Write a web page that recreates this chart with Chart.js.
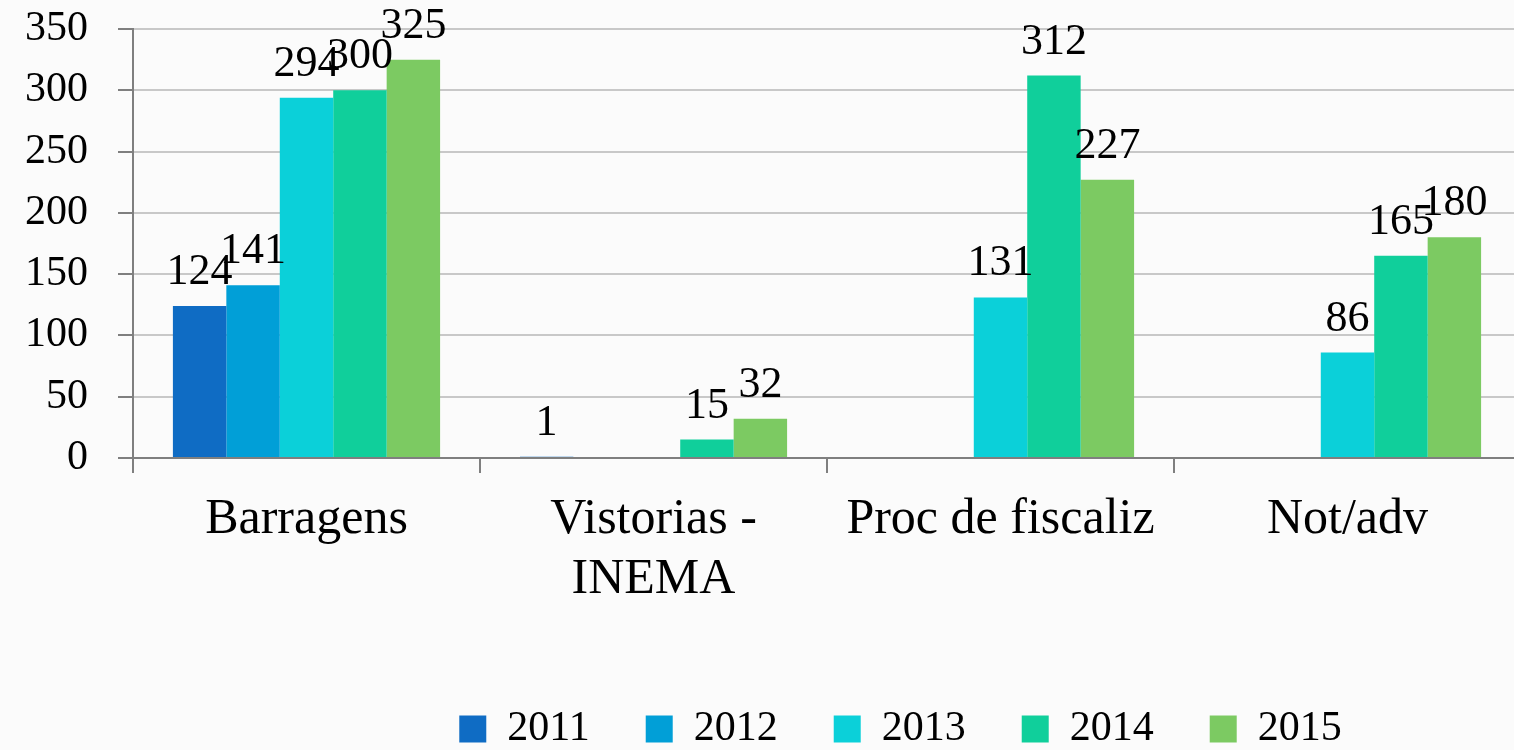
<!DOCTYPE html>
<html>
<head>
<meta charset="utf-8">
<script src="https://cdn.jsdelivr.net/npm/chart.js@4.4.1/dist/chart.umd.min.js"></script>
<style>
  html, body { margin: 0; padding: 0; overflow: hidden; background: #fbfbfb; }
  #wrap { width: 1521px; height: 750px; }
</style>
</head>
<body>
<div id="wrap"><canvas id="chart"></canvas></div>
<script>
/* ── data ── */
const CATEGORIES = ['Barragens', ['Vistorias -', 'INEMA'], 'Proc de fiscaliz', 'Not/adv'];
const YEARS = ['2011', '2012', '2013', '2014', '2015'];
const V2011 = [124, 1, null, null];
const V2012 = [141, null, null, null];
const V2013 = [294, null, 131, 86];
const V2014 = [300, 15, 312, 165];
const V2015 = [325, 32, 227, 180];
const Y_TICKS = [0, 50, 100, 150, 200, 250, 300, 350];

const COLORS = ['#0f6cc4', '#019fd7', '#0bd0d9', '#10cf9b', '#7cca62'];
const SERIES = [V2011, V2012, V2013, V2014, V2015];
const FONT = '"Liberation Serif", "DejaVu Serif", serif';

// value labels above each bar
const valueLabels = {
  id: 'valueLabels',
  afterDatasetsDraw(chart) {
    const { ctx } = chart;
    ctx.save();
    ctx.font = `44px ${FONT}`;
    ctx.fillStyle = '#000';
    ctx.textAlign = 'center';
    ctx.textBaseline = 'alphabetic';
    chart.data.datasets.forEach((ds, i) => {
      chart.getDatasetMeta(i).data.forEach((bar, j) => {
        const v = ds.data[j];
        if (v == null) return;
        ctx.fillText(String(v), bar.x, bar.y - 22);
      });
    });
    ctx.restore();
  }
};

// legend sits right of the canvas centre (and a bit lower) in the original
const legendShift = {
  id: 'legendShift',
  afterLayout(chart) {
    const lg = chart.legend;
    if (!lg) return;
    lg.left += 140; lg.right += 140;
    lg.top += 10; lg.bottom += 10;
  }
};

new Chart(document.getElementById('chart'), {
  type: 'bar',
  data: {
    labels: CATEGORIES,
    datasets: YEARS.map((y, i) => ({
      label: y,
      data: SERIES[i],
      backgroundColor: COLORS[i],
      categoryPercentage: 0.77,
      barPercentage: 1.0
    }))
  },
  options: {
    responsive: true, maintainAspectRatio: false,
    animation: false,
    layout: { padding: { top: 29, left: 0, right: 0, bottom: 0 } },
    plugins: {
      legend: {
        position: 'bottom',
        labels: {
          font: { family: FONT, size: 42 }, color: '#000',
          boxWidth: 27, boxHeight: 27, padding: 56
        }
      },
      tooltip: { enabled: false }
    },
    scales: {
      x: {
        grid: { offset: true, drawOnChartArea: false, drawTicks: true, tickLength: 15, color: '#7f7f7f', lineWidth: 2 },
        border: { color: '#7f7f7f', width: 2 },
        ticks: { font: { family: FONT, size: 50 }, color: '#000', padding: 17, maxRotation: 0, autoSkip: false },
        afterFit(s) { s.height = 184; }
      },
      y: {
        min: 0, max: 350,
        afterBuildTicks(s) { s.ticks = Y_TICKS.map(v => ({ value: v })); },
        grid: { color: '#c8c8c8', lineWidth: 2, tickLength: 15, tickColor: '#7f7f7f' },
        border: { color: '#7f7f7f', width: 2 },
        ticks: { font: { family: FONT, size: 42 }, color: '#000', padding: 30 },
        afterFit(s) { s.width = 133; s.paddingTop = 0; s.paddingBottom = 0; }
      }
    }
  },
  plugins: [valueLabels, legendShift]
});
</script>
</body>
</html>
